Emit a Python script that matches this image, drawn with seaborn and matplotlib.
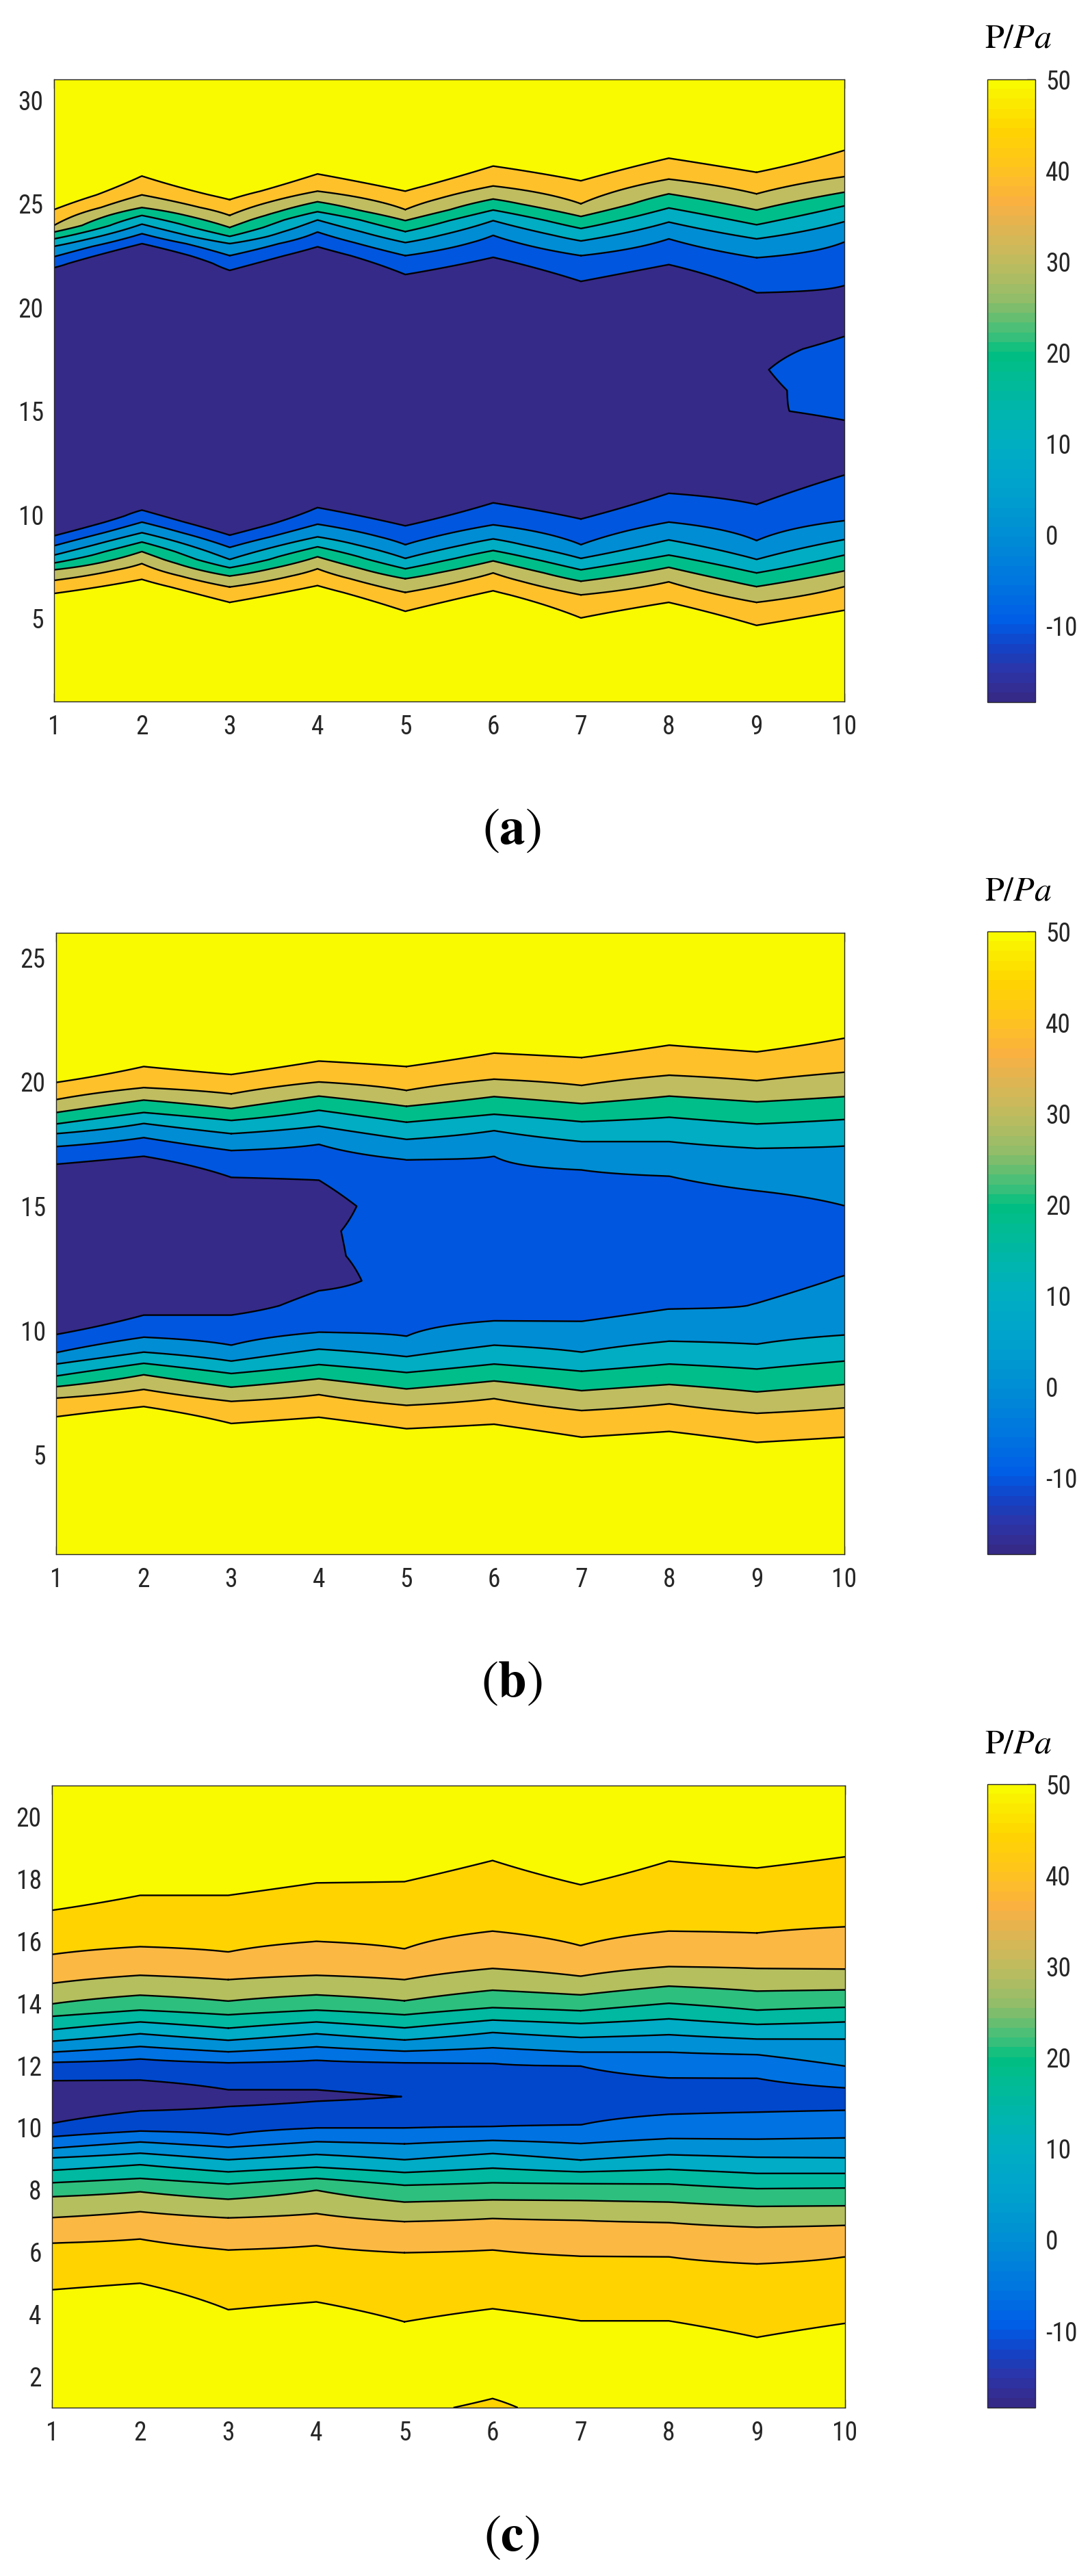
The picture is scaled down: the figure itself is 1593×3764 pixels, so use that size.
import numpy as np
import seaborn as sns
import matplotlib
matplotlib.use("Agg")
import matplotlib.pyplot as plt
import matplotlib.font_manager as fm
from matplotlib.colors import LinearSegmentedColormap, Normalize
from matplotlib.cm import ScalarMappable

nan = np.nan

# x positions of the measuring columns
cols = [1, 2, 3, 4, 5, 6, 7, 8, 9, 10]

# ---------------- panel (a) ----------------
# contour levels (Pa) and the height where each level is crossed in every column
a_levels = [-10, 0, 10, 20, 30, 40, 50]
a_lower = [  # below the low-pressure core, rows follow a_levels
    [8.99, 10.23, 9.02, 10.35, 9.47, 10.58, 9.80, 11.04, 10.50, 11.92],
    [8.51, 9.65, 8.43, 9.55, 8.56, 9.52, 8.56, 9.65, 8.76, 9.72],
    [8.06, 9.14, 7.85, 8.94, 7.90, 8.84, 7.90, 8.79, 7.85, 8.81],
    [7.68, 8.69, 7.45, 8.46, 7.40, 8.28, 7.35, 8.06, 7.20, 8.06],
    [7.35, 8.23, 7.05, 7.98, 6.92, 7.78, 6.80, 7.47, 6.54, 7.30],
    [6.84, 7.65, 6.52, 7.40, 6.26, 7.20, 6.14, 6.77, 5.78, 6.54],
    [6.21, 6.89, 5.78, 6.59, 5.35, 6.34, 5.03, 5.78, 4.67, 5.40],
]
a_upper = [  # above the low-pressure core
    [21.92, 23.08, 21.79, 22.93, 21.59, 22.42, 21.26, 22.07, 20.71, 21.06],
    [22.45, 23.56, 22.50, 23.64, 22.50, 23.48, 22.50, 23.31, 22.40, 23.16],
    [22.95, 24.02, 23.08, 24.22, 23.13, 24.19, 23.21, 24.12, 23.31, 24.14],
    [23.31, 24.44, 23.43, 24.62, 23.66, 24.70, 23.81, 24.80, 23.99, 24.90],
    [23.64, 24.82, 23.86, 25.10, 24.19, 25.23, 24.39, 25.48, 24.70, 25.56],
    [23.96, 25.43, 24.44, 25.61, 24.72, 25.86, 25.00, 26.19, 25.48, 26.31],
    [24.72, 26.34, 25.20, 26.44, 25.61, 26.82, 26.11, 27.20, 26.52, 27.58],
]
# pressure inside the core where it is not simply the minimum
a_core_y = [12.2, 13.2, 15, 16, 17, 18, 19.5]
a_core = [
    [nan, nan, nan, nan, nan, nan, nan, nan, -17.0, -11.26],
    [nan, nan, nan, nan, nan, nan, nan, nan, -14.5, -12.5],
    [nan, nan, nan, nan, nan, nan, nan, nan, -10.48, -9.2],
    [nan, nan, nan, nan, nan, nan, nan, nan, -11.6, -7.0],
    [nan, nan, nan, nan, nan, nan, nan, nan, -10.73, -5.5],
    [nan, nan, nan, nan, nan, nan, nan, nan, -11.9, -8.3],
    [nan, nan, nan, nan, nan, nan, nan, nan, -17.0, -12.5],
]
a_base = [55, 55, 55, 55, 55, 55, 55, 55, 55, 55]  # at y = 1

# ---------------- panel (b) ----------------
b_levels = [-10, 0, 10, 20, 30, 40, 50]
b_lower = [
    [9.84, 10.62, 10.62, 11.60, nan, nan, nan, nan, nan, nan],
    [9.11, 9.73, 9.41, 9.93, 9.77, 10.39, 10.37, 10.87, 11.10, 12.21],
    [8.65, 9.13, 8.77, 9.25, 8.95, 9.41, 9.13, 9.57, 9.45, 9.82],
    [8.17, 8.68, 8.27, 8.63, 8.31, 8.65, 8.36, 8.65, 8.45, 8.77],
    [7.74, 8.22, 7.72, 8.06, 7.65, 7.97, 7.58, 7.83, 7.53, 7.83],
    [7.28, 7.63, 7.15, 7.42, 6.99, 7.26, 6.78, 7.05, 6.67, 6.89],
    [6.53, 6.94, 6.26, 6.51, 6.05, 6.23, 5.71, 5.94, 5.50, 5.71],
]
b_upper = [
    [16.69, 17.01, 16.16, 16.05, nan, nan, nan, nan, nan, nan],
    [17.40, 17.76, 17.24, 17.49, 16.87, 17.01, 16.46, 16.21, 15.62, 15.02],
    [17.92, 18.33, 17.92, 18.22, 17.69, 18.04, 17.60, 17.60, 17.33, 17.42],
    [18.31, 18.77, 18.45, 18.86, 18.38, 18.70, 18.40, 18.58, 18.31, 18.49],
    [18.77, 19.27, 18.93, 19.43, 19.02, 19.41, 19.13, 19.43, 19.20, 19.41],
    [19.29, 19.77, 19.52, 20.00, 19.66, 20.11, 19.86, 20.27, 20.05, 20.39],
    [19.98, 20.62, 20.30, 20.84, 20.62, 21.16, 20.98, 21.48, 21.21, 21.76],
]
b_core_y = [11, 12, 13, 14, 15]
b_core = [
    [nan, nan, -14.4, nan, -5, -5, -5, -5, nan, nan],
    [nan, nan, nan, -14.8, -5, -5, -5, -5, -4, nan],
    [nan, nan, nan, -12.25, -5, -5, -5, -5, -4, -3],
    [nan, nan, nan, -11.7, -5, -5, -5, -5, -4, -3],
    [nan, nan, nan, -13.8, -5, -5, -5, -5, -4, nan],
]
b_base = [55, 55, 55, 55, 55, 55, 55, 55, 55, 55]

# ---------------- panel (c) ----------------
c_levels = [-11.6, -4.7, 2.1, 9.0, 15.8, 22.6, 29.5, 36.3, 43.2, 50.0]
c_lower = [
    [10.14, 10.54, 10.68, 10.85, nan, nan, nan, nan, nan, nan],
    [9.71, 9.89, 9.77, 9.99, 9.99, 10.04, 10.09, 10.43, 10.50, 10.56],
    [9.34, 9.54, 9.37, 9.55, 9.48, 9.59, 9.49, 9.65, 9.63, 9.67],
    [9.03, 9.18, 8.97, 9.14, 8.97, 9.17, 8.96, 9.13, 9.05, 9.03],
    [8.63, 8.81, 8.58, 8.73, 8.56, 8.70, 8.58, 8.66, 8.53, 8.53],
    [8.23, 8.37, 8.19, 8.37, 8.15, 8.23, 8.20, 8.19, 8.04, 8.06],
    [7.78, 7.94, 7.70, 7.99, 7.61, 7.68, 7.66, 7.61, 7.47, 7.49],
    [7.11, 7.30, 7.10, 7.24, 6.98, 7.08, 7.02, 6.95, 6.80, 6.86],
    [6.29, 6.42, 6.07, 6.21, 5.98, 6.07, 5.87, 5.85, 5.62, 5.85],
    [4.79, 5.00, 4.15, 4.40, 3.76, 4.18, 3.79, 3.79, 3.26, 3.71],
]
c_upper = [
    [11.51, 11.53, 11.22, 11.22, nan, nan, nan, nan, nan, nan],
    [12.10, 12.21, 12.09, 12.17, 12.09, 12.07, 11.98, 11.60, 11.59, 11.28],
    [12.43, 12.61, 12.44, 12.60, 12.46, 12.57, 12.43, 12.43, 12.35, 11.98],
    [12.78, 13.02, 12.81, 13.02, 12.82, 13.06, 12.90, 12.99, 12.85, 12.85],
    [13.15, 13.40, 13.20, 13.40, 13.21, 13.46, 13.35, 13.50, 13.32, 13.40],
    [13.58, 13.78, 13.63, 13.78, 13.63, 13.86, 13.76, 14.00, 13.78, 13.87],
    [13.98, 14.26, 14.07, 14.27, 14.08, 14.42, 14.27, 14.55, 14.39, 14.43],
    [14.64, 14.90, 14.76, 14.90, 14.76, 15.12, 14.87, 15.18, 15.12, 15.10],
    [15.57, 15.82, 15.65, 15.99, 15.75, 16.32, 15.85, 16.32, 16.26, 16.46],
    [16.99, 17.47, 17.47, 17.87, 17.91, 18.59, 17.81, 18.57, 18.35, 18.71],
]
c_core_y = [11]
c_core = [[-18.4, -18, -15, -13, -11.55, -9, -9, -8, -8, -7]]
c_base = [55, 55, 55, 55, 52.5, 48, 55, 55, 55, 55]

# fill colours of the bands, lowest band first
ab_colors = ["#352A87", "#0056DE", "#008DD4", "#00ADC2", "#00BE8A",
             "#C0BD60", "#FEC12A", "#F9F900"]
c_colors = ["#352A87", "#0047CC", "#0072E2", "#0090D6", "#00ACC6", "#00B9A0",
            "#2DBF7E", "#B5BF5E", "#FBB943", "#FFD300", "#F9F900"]

# colour bar scale
cbar_min, cbar_max = -18.4, 50
cbar_ticks = [-10, 0, 10, 20, 30, 40, 50]
cbar_stops = [(-18.4, "#352A87"), (-15.5, "#2C34A8"), (-12.5, "#1244C8"),
              (-10, "#005CE6"), (-5, "#0078DE"), (0, "#008FD4"), (5, "#00A2CC"),
              (10, "#00AEC2"), (15, "#00B8A4"), (20, "#00BF80"), (22, "#3CBF7A"),
              (26, "#92BD68"), (30, "#BEBC60"), (34, "#E0B452"), (37, "#FBB140"),
              (41, "#FFC51C"), (45, "#FFD500"), (50, "#F9F900")]


def outer_knot(pts, sign, y_min, y_max):
    """Continue the gradient of the outermost band beyond the last level."""
    (y1, v1), (y2, v2) = pts[-1], pts[-2]
    for k in (2, 1):
        yk = y1 + k * (y1 - y2)
        if y_min < yk < y_max:
            return (yk, v1 + k * (v1 - v2))
    return None


def build_field(y_top, levels, lower, upper, core_y, core, base, edge=55):
    """Assemble the pressure field column by column from the crossing heights."""
    y = np.arange(1, y_top + 0.01, 0.02)
    Z = np.empty((len(y), len(cols)))
    step0 = levels[1] - levels[0]
    for j in range(len(cols)):
        lo = [(row[j], lev) for lev, row in zip(levels, lower) if not np.isnan(row[j])]
        up = [(row[j], lev) for lev, row in zip(levels, upper) if not np.isnan(row[j])]
        knots = [(1, base[j])]
        lo_out = outer_knot(lo, -1, 1, y_top)
        if lo_out:
            knots.append(lo_out)
        knots += lo[::-1]
        cr = [(c, row[j]) for c, row in zip(core_y, core)
              if lo[0][0] < c < up[0][0] and not np.isnan(row[j])]
        inner = cr
        if lo[0][1] == levels[0] and up[0][1] == levels[0]:
            # keep the gradient of the innermost band going into the core
            gl = lo[0][0] - lo[1][0]
            gu = up[1][0] - up[0][0]
            v = levels[0] - 2 * step0
            yl, yu = lo[0][0] + 2 * gl, up[0][0] - 2 * gu
            if cr:
                inner = ([(yl, v)] if yl < cr[0][0] else []) + cr + \
                        ([(yu, v)] if yu > cr[-1][0] else [])
            elif yl < yu:
                inner = [(yl, v), (yu, v)]
            else:
                mid = 0.5 * (lo[0][0] + up[0][0])
                k = min((mid - lo[0][0]) / gl, (up[0][0] - mid) / gu)
                inner = [(mid, levels[0] - k * step0)]
        knots += inner
        knots += up
        up_out = outer_knot(up, 1, 1, y_top)
        if up_out:
            knots.append(up_out)
        knots.append((y_top, edge))
        ky, kz = zip(*knots)
        Z[:, j] = np.interp(y, ky, kz)
    return y, Z


sns.set_theme(style="white")

# narrow sans for the tick labels, if one is installed
fams = {}
for f in fm.fontManager.ttflist:
    fams.setdefault(f.name, set()).add(str(f.stretch))
tick_family, tick_stretch, tick_size = "Liberation Sans", "normal", 25
for name in ["Liberation Sans Narrow", "Arial Narrow", "Roboto Condensed",
             "Open Sans Condensed", "Noto Sans Condensed"]:
    if name in fams:
        tick_family, tick_size = name, 27
        break
else:
    for name in ["DejaVu Sans", "Noto Sans", "Open Sans", "Roboto"]:
        if name in fams and any("condensed" in s for s in fams[name]):
            tick_family, tick_stretch, tick_size = name, "condensed", 27
            break

plt.rcParams["font.family"] = [tick_family, "DejaVu Sans"]
plt.rcParams["font.stretch"] = tick_stretch
plt.rcParams["mathtext.fontset"] = "stix"
plt.rcParams["axes.unicode_minus"] = False

W, H = 1593, 3764
fig = plt.figure(figsize=(W / 100, H / 100), dpi=100)

cmap = LinearSegmentedColormap.from_list(
    "pa", [((v - cbar_min) / (cbar_max - cbar_min), c) for v, c in cbar_stops], N=64)

panels = [
    dict(box=(79, 116, 1234, 1025), cb=(116, 1026), tag="a", ytop=31,
         yticks=[5, 10, 15, 20, 25, 30],
         data=(a_levels, a_lower, a_upper, a_core_y, a_core, a_base),
         colors=ab_colors),
    dict(box=(82, 1363, 1234, 2271), cb=(1361, 2271), tag="b", ytop=26,
         yticks=[5, 10, 15, 20, 25],
         data=(b_levels, b_lower, b_upper, b_core_y, b_core, b_base),
         colors=ab_colors),
    dict(box=(76, 2609, 1235, 3518), cb=(2607, 3518), tag="c", ytop=21,
         yticks=[2, 4, 6, 8, 10, 12, 14, 16, 18, 20],
         data=(c_levels, c_lower, c_upper, c_core_y, c_core, c_base),
         colors=c_colors),
]

ink = "#262626"
for p in panels:
    l, t, r, b = p["box"]
    ax = fig.add_axes([l / W, 1 - b / H, (r - l) / W, (b - t) / H])
    levels, lower, upper, core_y, core, base = p["data"]
    y, Z = build_field(p["ytop"], levels, lower, upper, core_y, core, base)
    bounds = [-100] + list(levels) + [100]
    ax.contourf(cols, y, Z, levels=bounds, colors=p["colors"])
    ax.contour(cols, y, Z, levels=levels, colors="black", linewidths=1.7,
               linestyles="solid")
    ax.set_xlim(1, 10)
    ax.set_ylim(1, p["ytop"])
    ax.set_xticks(cols)
    ax.set_yticks(p["yticks"])
    ax.tick_params(direction="in", length=9, width=1.0, labelsize=tick_size,
                   colors=ink, top=True, right=True, bottom=True, left=True)
    ax.tick_params(axis="x", pad=14)
    ax.tick_params(axis="y", pad=11)
    for s in ax.spines.values():
        s.set_linewidth(1.0)
        s.set_edgecolor(ink)

    ct, cbot = p["cb"]
    cax = fig.add_axes([1443 / W, 1 - cbot / H, 70 / W, (cbot - ct) / H])
    sm = ScalarMappable(norm=Normalize(cbar_min, cbar_max), cmap=cmap)
    cb = fig.colorbar(sm, cax=cax, ticks=cbar_ticks)
    cb.outline.set_linewidth(1.0)
    cb.outline.set_edgecolor(ink)
    cax.tick_params(direction="in", length=9, width=1.0, labelsize=tick_size,
                    pad=11, colors=ink, right=True, left=False)
    fig.text(1488 / W, 1 - (ct - 60) / H, r"$\mathrm{P}/\mathit{Pa}$",
             fontsize=36, ha="center", va="center", color="black")
    fig.text(748 / W, 1 - (b + 188) / H, r"$(\mathbf{%s})$" % p["tag"],
             fontsize=54, ha="center", va="center", color="black")

fig.savefig("out.png", dpi=100)
